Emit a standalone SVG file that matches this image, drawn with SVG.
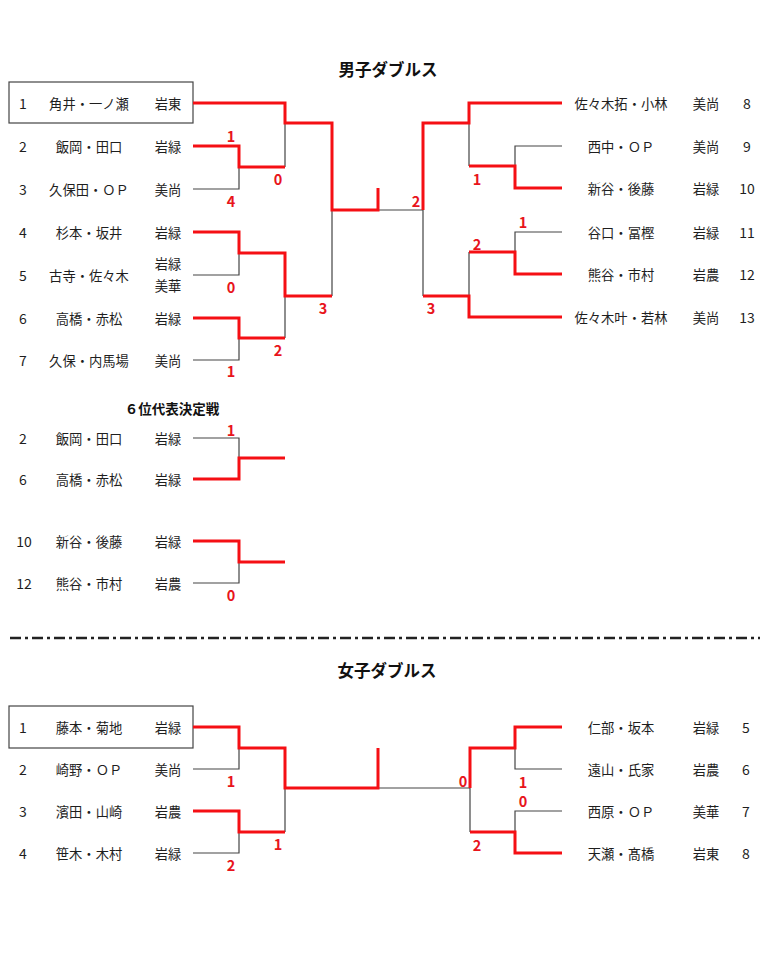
<svg xmlns="http://www.w3.org/2000/svg" width="768" height="960" viewBox="0 0 768 960">
<style>
text{font-family:"Noto Sans CJK JP","Noto Sans",sans-serif;font-size:13.3px;fill:#1e1e1e;text-anchor:middle;dominant-baseline:central}
.n{font-size:14px}
.title{font-size:16.5px;font-weight:bold;fill:#111}
.sub{font-size:13.5px;font-weight:bold;fill:#111}
.sc{font-size:14.5px;font-weight:bold;fill:#e8141b}
.r{fill:none;stroke:#f50f14;stroke-width:3;stroke-linejoin:miter;stroke-linecap:butt}
.g{fill:none;stroke:#444;stroke-width:1.2}
.box{fill:none;stroke:#444;stroke-width:1.2}
</style>
<rect width="768" height="960" fill="#fff"/>
<text class="title" x="388" y="69">男子ダブルス</text>
<text class="sub" x="172" y="408">６位代表決定戦</text>
<text class="title" x="387" y="670">女子ダブルス</text>
<path d="M10,638 H760" stroke="#222" stroke-width="2.5" stroke-dasharray="11 4 3 4" fill="none"/>
<rect class="box" x="9" y="82" width="184" height="41"/>
<rect class="box" x="9" y="706" width="184" height="42"/>

<g id="connectors">
<path class="g" d="M193,189 H239 V167 M285,123 V167 M193,275 H239 V253 M332,210 V296 M285,296 V338 M193,360 H239 V338 M378,210 H423"/>
<path class="g" d="M562,146 H515 V166 M469,123 V166 M562,232 H515 V252 M469,252 V296 M423,210 V296"/>
<path class="r" d="M193,103 H285 V123 H332 V210 H378 V188"/>
<path class="r" d="M193,146 H239 V167 H285"/>
<path class="r" d="M193,232 H239 V253 H285 V296 H332"/>
<path class="r" d="M193,318 H239 V338 H285"/>
<path class="r" d="M562,103 H469 V123 H423 V210"/>
<path class="r" d="M562,188 H515 V166 H469"/>
<path class="r" d="M562,274 H515 V252 H469"/>
<path class="r" d="M562,317 H469 V296 H423"/>
<path class="g" d="M193,438 H239 V458 M193,583 H239 V562"/>
<path class="r" d="M193,479 H239 V458 H285"/>
<path class="r" d="M193,541 H239 V562 H285"/>
<path class="g" d="M193,769 H239 V748 M193,853 H239 V832 M285,788 V832 M378,788 H470 M562,769 H515 V748 M562,811 H515 V832 M470,788 V832"/>
<path class="r" d="M193,727 H239 V748 H285 V788 H378 V748"/>
<path class="r" d="M193,811 H239 V832 H285"/>
<path class="r" d="M562,727 H515 V748 H470 V788"/>
<path class="r" d="M562,853 H515 V832 H470"/>
</g>

<g id="scores">
<text class="sc" x="231" y="135">1</text>
<text class="sc" x="278" y="178">0</text>
<text class="sc" x="231" y="200">4</text>
<text class="sc" x="231" y="286">0</text>
<text class="sc" x="323" y="307">3</text>
<text class="sc" x="278" y="349">2</text>
<text class="sc" x="231" y="370">1</text>
<text class="sc" x="416" y="200">2</text>
<text class="sc" x="477" y="178">1</text>
<text class="sc" x="523" y="221">1</text>
<text class="sc" x="477" y="243">2</text>
<text class="sc" x="431" y="307">3</text>
<text class="sc" x="231" y="429">1</text>
<text class="sc" x="231" y="594">0</text>
<text class="sc" x="231" y="780">1</text>
<text class="sc" x="278" y="843">1</text>
<text class="sc" x="231" y="864">2</text>
<text class="sc" x="463" y="780">0</text>
<text class="sc" x="523" y="781">1</text>
<text class="sc" x="523" y="800">0</text>
<text class="sc" x="477" y="844">2</text>
</g>

<g id="m1"><text class="n" x="23" y="103">1</text><text x="89" y="103">角井・一ノ瀬</text><text x="168" y="103">岩東</text></g>
<g id="m2"><text class="n" x="23" y="146">2</text><text x="89" y="146">飯岡・田口</text><text x="168" y="146">岩緑</text></g>
<g id="m3"><text class="n" x="23" y="189">3</text><text x="89" y="189">久保田・ＯＰ</text><text x="168" y="189">美尚</text></g>
<g id="m4"><text class="n" x="23" y="232">4</text><text x="89" y="232">杉本・坂井</text><text x="168" y="232">岩緑</text></g>
<g id="m5"><text class="n" x="23" y="275">5</text><text x="89" y="275">古寺・佐々木</text><text x="168" y="263">岩緑</text><text x="168" y="285">美華</text></g>
<g id="m6"><text class="n" x="23" y="318">6</text><text x="89" y="318">高橋・赤松</text><text x="168" y="318">岩緑</text></g>
<g id="m7"><text class="n" x="23" y="360">7</text><text x="89" y="360">久保・内馬場</text><text x="168" y="360">美尚</text></g>
<g id="m8"><text x="621" y="103">佐々木拓・小林</text><text x="706" y="103">美尚</text><text class="n" x="747" y="103">8</text></g>
<g id="m9"><text x="621" y="146">西中・ＯＰ</text><text x="706" y="146">美尚</text><text class="n" x="747" y="146">9</text></g>
<g id="m10"><text x="621" y="188">新谷・後藤</text><text x="706" y="188">岩緑</text><text class="n" x="747" y="188">10</text></g>
<g id="m11"><text x="621" y="232">谷口・冨樫</text><text x="706" y="232">岩緑</text><text class="n" x="747" y="232">11</text></g>
<g id="m12"><text x="621" y="274">熊谷・市村</text><text x="706" y="274">岩農</text><text class="n" x="747" y="274">12</text></g>
<g id="m13"><text x="621" y="317">佐々木叶・若林</text><text x="706" y="317">美尚</text><text class="n" x="747" y="317">13</text></g>

<g id="p2"><text class="n" x="23" y="438">2</text><text x="89" y="438">飯岡・田口</text><text x="168" y="438">岩緑</text></g>
<g id="p6"><text class="n" x="23" y="479">6</text><text x="89" y="479">高橋・赤松</text><text x="168" y="479">岩緑</text></g>
<g id="p10"><text class="n" x="24" y="541">10</text><text x="89" y="541">新谷・後藤</text><text x="168" y="541">岩緑</text></g>
<g id="p12"><text class="n" x="24" y="583">12</text><text x="89" y="583">熊谷・市村</text><text x="168" y="583">岩農</text></g>

<g id="w1"><text class="n" x="23" y="727">1</text><text x="89" y="727">藤本・菊地</text><text x="168" y="727">岩緑</text></g>
<g id="w2"><text class="n" x="23" y="769">2</text><text x="89" y="769">崎野・ＯＰ</text><text x="168" y="769">美尚</text></g>
<g id="w3"><text class="n" x="23" y="811">3</text><text x="89" y="811">濱田・山崎</text><text x="168" y="811">岩農</text></g>
<g id="w4"><text class="n" x="23" y="853">4</text><text x="89" y="853">笹木・木村</text><text x="168" y="853">岩緑</text></g>
<g id="w5"><text x="621" y="727">仁部・坂本</text><text x="706" y="727">岩緑</text><text class="n" x="746" y="727">5</text></g>
<g id="w6"><text x="621" y="769">遠山・氏家</text><text x="706" y="769">岩農</text><text class="n" x="746" y="769">6</text></g>
<g id="w7"><text x="621" y="811">西原・ＯＰ</text><text x="706" y="811">美華</text><text class="n" x="746" y="811">7</text></g>
<g id="w8"><text x="621" y="853">天瀬・髙橋</text><text x="706" y="853">岩東</text><text class="n" x="746" y="853">8</text></g>
</svg>
